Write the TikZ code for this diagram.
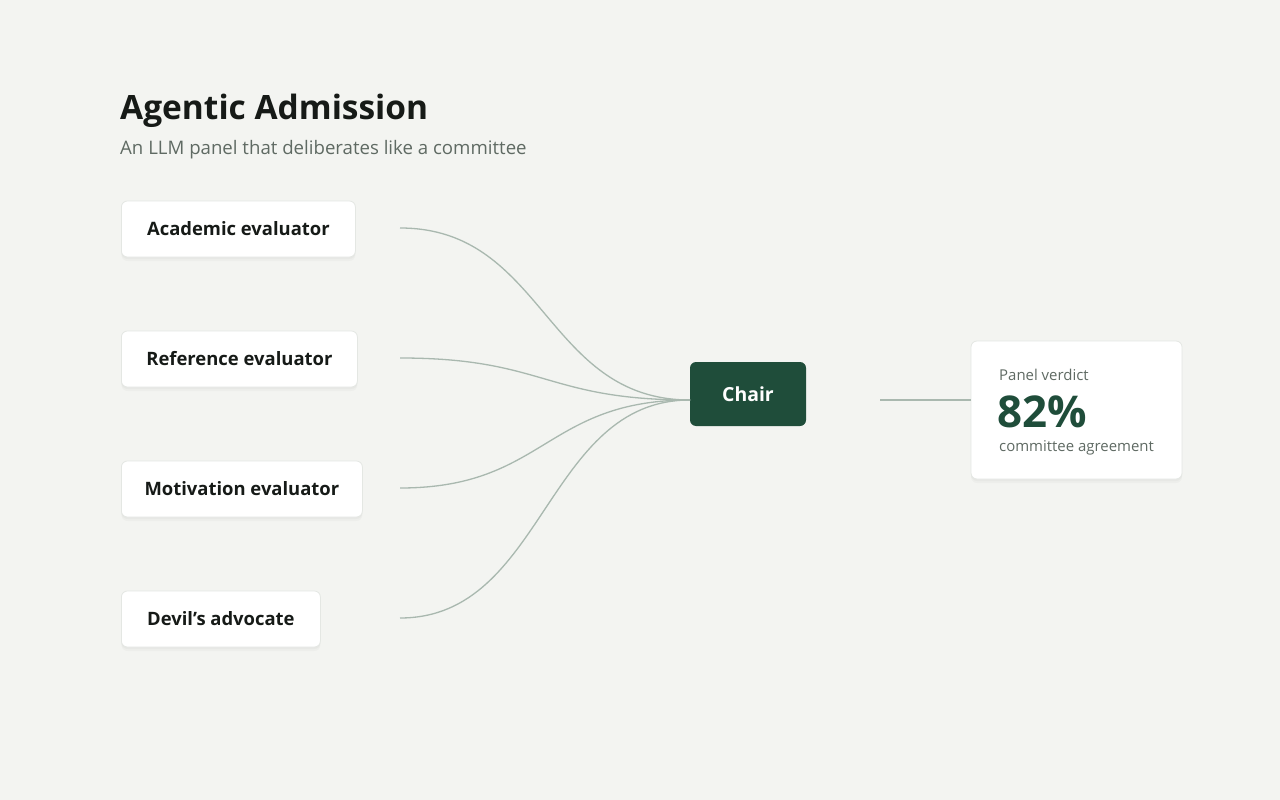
\documentclass[tikz,border=0pt]{standalone}
\usepackage{fontspec}
\setmainfont{Open Sans}[Ligatures=NoCommon]
\usetikzlibrary{shadows}
\definecolor{bg}{HTML}{F3F4F1}
\definecolor{ink}{HTML}{161A17}
\definecolor{sub}{HTML}{5F6A63}
\definecolor{chairgreen}{HTML}{1F4D3A}
\definecolor{wire}{HTML}{A9B8AF}
\definecolor{edge}{HTML}{E4E7E3}
\begin{document}
\begin{tikzpicture}[x=1bp,y=-1bp,
  softshadow/.style={preaction={fill=black, fill opacity=0.025, transform canvas={yshift=-4bp}},
                     preaction={fill=black, fill opacity=0.025, transform canvas={yshift=-2bp}}},
  card/.style={draw=edge, line width=0.8bp, fill=white, rounded corners=6bp, softshadow},
  agent/.style={card, anchor=west, minimum height=56bp, inner sep=0pt,
    font=\fontsize{18.5}{22}\selectfont\bfseries, text=ink},
  wireline/.style={draw=wire, line width=1.3bp}
]
\useasboundingbox[fill=bg] (0,0) rectangle (1280,800);
\node[anchor=base west, inner sep=0pt, font=\fontsize{33.6}{38}\selectfont\bfseries, text=ink] (title) at (120,120) {Agentic Admission};
\node[anchor=base west, inner sep=0pt, font=\fontsize{18.7}{22}\selectfont, text=sub] (subtitle) at (120,154) {An LLM panel that deliberates like a committee};

\node[agent, minimum width=234bp] (acad) at (121,229) {Academic evaluator};
\node[agent, minimum width=236bp] (ref) at (121,359) {Reference evaluator};
\node[agent, minimum width=241bp] (mot) at (121,489) {Motivation evaluator};
\node[agent, minimum width=199bp] (dev) at (121,619) {Devil’s advocate};

\coordinate (s1) at (400,228);
\coordinate (s2) at (400,358);
\coordinate (s3) at (400,488);
\coordinate (s4) at (400,618);

\node[fill=chairgreen, rounded corners=6bp, minimum width=116bp, minimum height=64bp, inner sep=0pt,
  text=white, font=\fontsize{19.5}{24}\selectfont\bfseries] (chair) at (748,394) {Chair};
\coordinate (cin) at (690,400);

\foreach \s in {s1,s2,s3,s4}{
  \draw[wireline] (\s) .. controls ([xshift=145bp]\s) and ([xshift=-145bp]cin) .. (cin);
}

\coordinate (vout) at (880,400);
\node[card, minimum width=211bp, minimum height=138bp, inner sep=0pt] (verdict) at (1076.5,410) {};
\draw[wireline] (vout) -- (verdict.west |- vout);

\node[anchor=base west, inner sep=0pt, font=\fontsize{15}{17}\selectfont, text=sub] (vlabel) at (999,380) {Panel verdict};
\node[anchor=base west, inner sep=0pt, font=\fontsize{44}{48}\selectfont\bfseries, text=chairgreen] (vnum) at (997,427) {82\%};
\node[anchor=base west, inner sep=0pt, font=\fontsize{15}{17}\selectfont, text=sub] (vsub) at (999,451) {committee agreement};
\end{tikzpicture}
\end{document}
